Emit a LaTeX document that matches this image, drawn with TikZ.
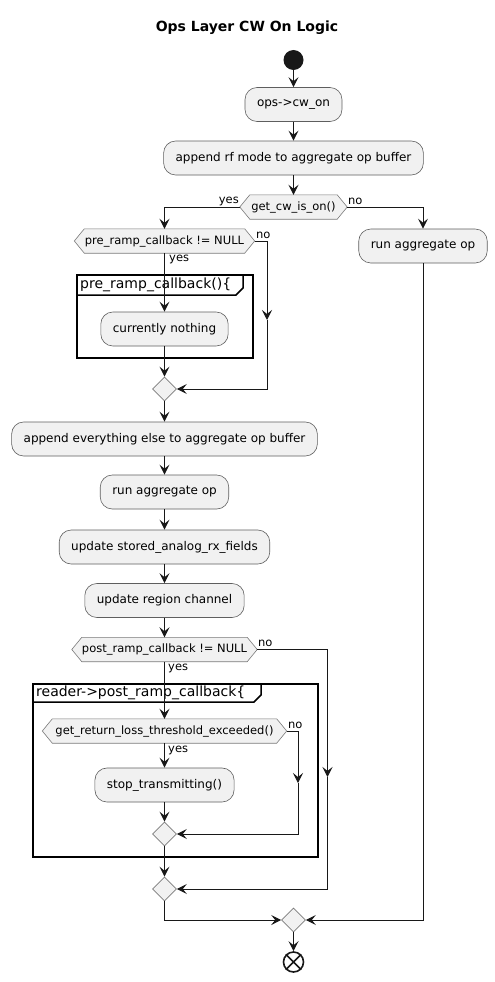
\documentclass[tikz,border=0pt]{standalone}
\usepackage{fontspec}
\setmainfont{DejaVu Sans}
\usetikzlibrary{arrows.meta,shapes.geometric}
\definecolor{actfill}{HTML}{F1F1F1}
\definecolor{ink}{HTML}{181818}
\definecolor{boxline}{HTML}{5E5E5E}
\definecolor{hexline}{HTML}{7A7A7A}
\pgfdeclarelayer{bg}
\pgfdeclarelayer{shapes}
\pgfsetlayers{bg,shapes,main}

\begin{document}
\begin{tikzpicture}[x=1pt,y=-1pt,
  act/.style={draw=boxline, line width=0.6pt, fill=actfill, rounded corners=12pt,
    font=\fontsize{12}{14}\selectfont, minimum height=34pt, inner xsep=12pt, inner ysep=0pt},
  cond/.style={rectangle, inner sep=0pt, minimum height=24pt, font=\fontsize{11.5}{13}\selectfont},
  hexshape/.style={draw=hexline, line width=0.6pt, fill=actfill},
  merge/.style={diamond, draw=hexline, line width=0.6pt, fill=actfill, inner sep=0pt,
    minimum width=24pt, minimum height=24pt},
  startdot/.style={circle, fill=ink, inner sep=0pt, minimum size=20pt},
  stopnode/.style={circle, draw=ink, line width=1.6pt, fill=white, inner sep=0pt, minimum size=20pt},
  lbl/.style={inner sep=0pt, font=\fontsize{11.5}{13}\selectfont},
  flow/.style={draw=ink, line width=1pt, -{Stealth[length=10pt,width=10pt,inset=4pt]}},
  frameline/.style={draw=black, line width=1.5pt},
  frametitle/.style={anchor=west, inner sep=0pt, font=\fontsize{14}{17}\selectfont},
  title/.style={inner sep=0pt, font=\bfseries\fontsize{14}{17}\selectfont}
]
\useasboundingbox (0,0) rectangle (495,982);
\begin{pgfonlayer}{bg}
  \fill[white] (0,0) rectangle (495,982);
  % group frames
  \draw[frameline] (77,275) rectangle (253,358);
  \draw[frameline] (77,295) -- (236,295) -- (243,288) -- (243,275);
  \node[frametitle] (f1title) at (80,285) {pre\_ramp\_callback()\{};
  \draw[frameline] (33,684) rectangle (318,857);
  \draw[frameline] (33,702) -- (254,702) -- (261,695) -- (261,684);
  \node[frametitle] (f2title) at (36,693) {reader->post\_ramp\_callback\{};
\end{pgfonlayer}

\node[title] (title) at (247,28) {Ops Layer CW On Logic};

\node[startdot] (start) at (293.5,60) {};
\node[act] (cwon) at (293.5,104.5) {ops->cw\_on};
\node[act] (rfmode) at (293.5,158) {append rf mode to aggregate op buffer};
\node[cond, minimum width=107pt] (qon) at (293.5,207) {get\_cw\_is\_on()};
\node[act] (runR) at (423,246) {run aggregate op};

\node[cond, minimum width=180pt] (qpre) at (164.5,241) {pre\_ramp\_callback != NULL};
\node[act] (nothing) at (164.5,329) {currently nothing};
\node[merge] (m1) at (164.5,389) {};
\node[act] (everything) at (164.5,439) {append everything else to aggregate op buffer};
\node[act] (runL) at (164.5,492) {run aggregate op};
\node[act] (stored) at (164.5,547) {update stored\_analog\_rx\_fields};
\node[act] (region) at (164.5,600.5) {update region channel};
\node[cond, minimum width=185pt] (qpost) at (164.5,649.5) {post\_ramp\_callback != NULL};
\node[cond, minimum width=244pt] (qloss) at (164.5,731) {get\_return\_loss\_threshold\_exceeded()};
\node[act] (stop) at (164.5,785) {stop\_transmitting()};
\node[merge] (m2) at (164.5,834) {};
\node[merge] (m3) at (164.5,889) {};
\node[merge] (m4) at (293.5,920) {};
\node[stopnode] (end) at (293.5,962) {};
\draw[ink, line width=1.6pt] (end.north east) -- (end.south west) (end.north west) -- (end.south east);

% hexagonal decision outlines, behind their text
\begin{pgfonlayer}{shapes}
  \foreach \h in {qon,qpre,qpost,qloss}
    \draw[hexshape] (\h.west) -- ([xshift=10pt]\h.north west) -- ([xshift=-10pt]\h.north east)
      -- (\h.east) -- ([xshift=-10pt]\h.south east) -- ([xshift=10pt]\h.south west) -- cycle;
\end{pgfonlayer}

% branch labels
\node[lbl, anchor=east] (qonyes) at (239,201) {yes};
\node[lbl, anchor=west] (qonno) at (348,201) {no};
\node[lbl, anchor=west] (qpreno) at (256,235) {no};
\node[lbl, anchor=west] (qpreyes) at (169,259) {yes};
\node[lbl, anchor=west] (qpostno) at (258,643) {no};
\node[lbl, anchor=west] (qpostyes) at (168,668) {yes};
\node[lbl, anchor=west] (qlossno) at (288,725) {no};
\node[lbl, anchor=west] (qlossyes) at (168,750) {yes};

% bends on the skip branches
\coordinate (c1) at (267,320);
\coordinate (c2) at (327.5,777);
\coordinate (c3) at (298,783);

% connectors
\draw[flow] (start) -- (cwon);
\draw[flow] (cwon) -- (rfmode);
\draw[flow] (rfmode) -- (qon);
\draw[flow] (qon.west) -| (qpre.north);
\draw[flow] (qon.east) -| (runR.north);
\draw[flow] (qpre.south) -- (nothing.north);
\draw[flow] (nothing) -- (m1);
\draw[flow] (qpre.east) -| (c1);
\draw[flow] (c1) |- (m1.east);
\draw[flow] (m1) -- (everything);
\draw[flow] (everything) -- (runL);
\draw[flow] (runL) -- (stored);
\draw[flow] (stored) -- (region);
\draw[flow] (region) -- (qpost);
\draw[flow] (qpost.south) -- (qloss.north);
\draw[flow] (qloss.south) -- (stop.north);
\draw[flow] (stop) -- (m2);
\draw[flow] (qloss.east) -| (c3);
\draw[flow] (c3) |- (m2.east);
\draw[flow] (m2) -- (m3);
\draw[flow] (qpost.east) -| (c2);
\draw[flow] (c2) |- (m3.east);
\draw[flow] (m3.south) |- (m4.west);
\draw[flow] (runR.south) |- (m4.east);
\draw[flow] (m4) -- (end);
\end{tikzpicture}
\end{document}
